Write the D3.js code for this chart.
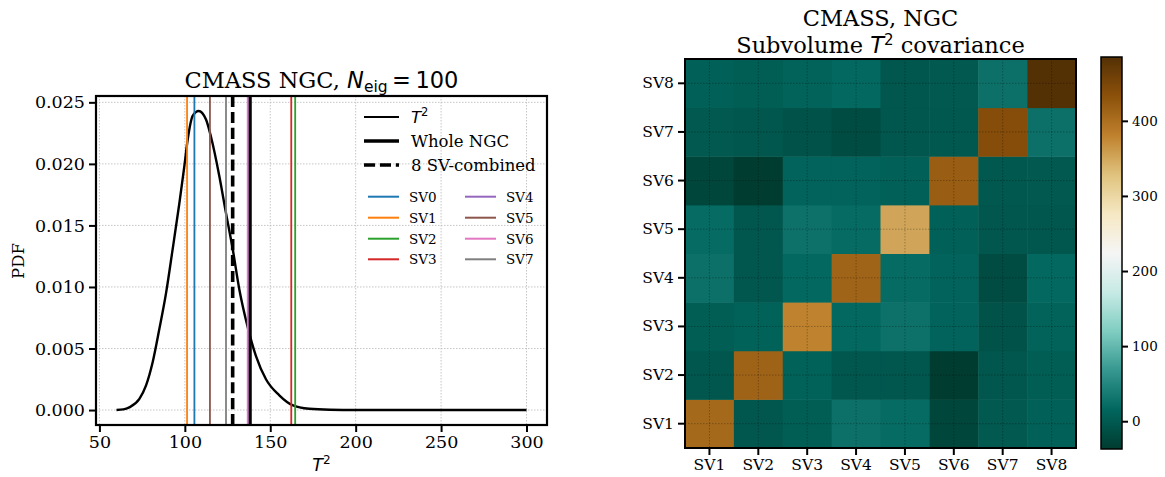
<!DOCTYPE html>
<html>
<head>
<meta charset="utf-8">
<script src="https://cdn.jsdelivr.net/npm/d3@7"></script>
<style>
    body { margin: 0; background: #fff; }
    svg text { font-family: "DejaVu Serif", serif; fill: #000; }
    .math { font-family: "DejaVu Sans", sans-serif; }
</style>
</head>
<body>
<svg id="fig" width="1165" height="477"></svg>
<script>
// T^2 distribution
var t2Grid = [60, 64, 67.5, 73.4, 77.3, 81.2, 85.1, 89, 92.9, 96.8, 99.7, 101.7, 104.6, 108.1,
              112.4, 115.3, 120.2, 124.1, 128, 131.9, 136.7, 141.6, 147.5, 155.3, 163, 172.8,
              185, 200, 250, 300];
var t2Pdf = [0, 0.00005, 0.00022, 0.0009, 0.002, 0.0039, 0.0066, 0.0095, 0.0131, 0.0168, 0.0198,
             0.0220, 0.0239, 0.0243, 0.0236, 0.0222, 0.019, 0.016, 0.0131, 0.0098, 0.0068, 0.0044,
             0.0025, 0.0012, 0.0004, 0.0001, 0.00002, 0, 0, 0];

// measured T^2 values
var svNames = ['SV0', 'SV1', 'SV2', 'SV3', 'SV4', 'SV5', 'SV6', 'SV7'];
var svT2 = [105.6, 101.3, 164.6, 162.3, 137.2, 114.7, 136.8, 124.1];
var svColors = ['#1f77b4', '#ff7f0e', '#2ca02c', '#d62728', '#9467bd', '#8c564b', '#e377c2', '#7f7f7f'];
var wholeNGC = 138.3;
var combined8SV = 128.0;

var xTicks = [50, 100, 150, 200, 250, 300];
var yTicks = [0, 0.005, 0.010, 0.015, 0.020, 0.025];

// subvolume covariance, rows SV1..SV8, columns SV1..SV8
var covLabels = ['SV1', 'SV2', 'SV3', 'SV4', 'SV5', 'SV6', 'SV7', 'SV8'];
var covSV1 = [407, -3.5, 5, 26, 20, -24, -1.5, 8];
var covSV2 = [-3.5, 413, 10, -3, -3, -37, -4, 5];
var covSV3 = [5, 10, 380, 17, 27, 12, -8, 11];
var covSV4 = [26, -3, 17, 412, 20, 12, -17, 17];
var covSV5 = [20, -3, 27, 20, 352, 8, -4.5, -4];
var covSV6 = [-24, -37, 12, 12, 8, 419, -2, -1];
var covSV7 = [-1.5, -4, -8, -17, -4.5, -2, 439, 26];
var covSV8 = [8, 5, 11, 17, -4, -1, 26, 485];
var cbTicks = [0, 100, 200, 300, 400];

(function () {
    var svg = d3.select('#fig');

    // ---------- left panel: T^2 pdf ----------
    var L = { x0: 96, x1: 547, y0: 96, y1: 425 };
    var xr = d3.extent(t2Grid), yr = d3.extent(t2Pdf);
    var xm = (xr[1] - xr[0]) * 0.05, ym = (yr[1] - yr[0]) * 0.05;
    var x = d3.scaleLinear().domain([xr[0] - xm, xr[1] + xm]).range([L.x0, L.x1]);
    var y = d3.scaleLinear().domain([yr[0] - ym, yr[1] + ym]).range([L.y1, L.y0]);

    var left = svg.append('g');
    svg.append('clipPath').attr('id', 'clipL').append('rect')
        .attr('x', L.x0).attr('y', L.y0).attr('width', L.x1 - L.x0).attr('height', L.y1 - L.y0);

    // grid
    var grid = left.append('g').attr('stroke', '#b8b8b8').attr('stroke-width', 0.8)
        .attr('stroke-dasharray', '1.5,1.5');
    grid.selectAll('.gx').data(xTicks).join('line')
        .attr('class', 'gx')
        .attr('x1', function (d) { return x(d); }).attr('x2', function (d) { return x(d); })
        .attr('y1', L.y0).attr('y2', L.y1);
    grid.selectAll('.gy').data(yTicks).join('line')
        .attr('class', 'gy')
        .attr('y1', function (d) { return y(d); }).attr('y2', function (d) { return y(d); })
        .attr('x1', L.x0).attr('x2', L.x1);

    var plot = left.append('g').attr('clip-path', 'url(#clipL)');

    // pdf curve
    var line = d3.line()
        .x(function (d) { return x(d[0]); })
        .y(function (d) { return y(d[1]); })
        .curve(d3.curveMonotoneX);
    plot.append('path')
        .datum(t2Grid.map(function (g, i) { return [g, t2Pdf[i]]; }))
        .attr('d', line).attr('fill', 'none').attr('stroke', '#000').attr('stroke-width', 2.4);

    // subvolume lines
    plot.selectAll('.sv').data(svT2).join('line')
        .attr('class', 'sv')
        .attr('x1', function (d) { return x(d); }).attr('x2', function (d) { return x(d); })
        .attr('y1', L.y0).attr('y2', L.y1)
        .attr('stroke', function (d, i) { return svColors[i]; })
        .attr('stroke-width', 1.8);

    plot.append('line')
        .attr('x1', x(wholeNGC)).attr('x2', x(wholeNGC)).attr('y1', L.y0).attr('y2', L.y1)
        .attr('stroke', '#000').attr('stroke-width', 3);
    plot.append('line')
        .attr('x1', x(combined8SV)).attr('x2', x(combined8SV)).attr('y1', L.y0).attr('y2', L.y1)
        .attr('stroke', '#000').attr('stroke-width', 3.6).attr('stroke-dasharray', '11.1,4.8');

    // axes
    var ax = left.append('g').attr('transform', 'translate(0,' + L.y1 + ')')
        .call(d3.axisBottom(x).tickValues(xTicks).tickSize(7).tickPadding(4).tickFormat(d3.format('d')));
    var ay = left.append('g').attr('transform', 'translate(' + L.x0 + ',0)')
        .call(d3.axisLeft(y).tickValues(yTicks).tickSize(7).tickPadding(4).tickFormat(d3.format('.3f')));
    [ax, ay].forEach(function (a) {
        a.select('.domain').remove();
        a.selectAll('line').attr('stroke', '#000').attr('stroke-width', 2);
        a.selectAll('text').attr('font-family', '"DejaVu Serif", serif').attr('font-size', 17.5).attr('fill', '#000');
    });

    left.append('rect')
        .attr('x', L.x0).attr('y', L.y0).attr('width', L.x1 - L.x0).attr('height', L.y1 - L.y0)
        .attr('fill', 'none').attr('stroke', '#000').attr('stroke-width', 2.2);

    // title
    var title = left.append('text').attr('x', (L.x0 + L.x1) / 2).attr('y', 88)
        .attr('text-anchor', 'middle').attr('font-size', 22.5);
    title.append('tspan').text('CMASS NGC, ');
    title.append('tspan').attr('class', 'math').attr('font-style', 'italic').text('N');
    title.append('tspan').attr('class', 'math').attr('font-size', 15.5).attr('dy', 4).text('eig');
    title.append('tspan').attr('class', 'math').attr('dy', -4).text('\u2009=\u2009100');

    // axis labels
    var xl = left.append('text').attr('x', (L.x0 + L.x1) / 2).attr('y', 471)
        .attr('text-anchor', 'middle').attr('font-size', 17.5);
    xl.append('tspan').attr('class', 'math').attr('font-style', 'italic').text('T');
    xl.append('tspan').attr('class', 'math').attr('font-size', 12).attr('dy', -7).text('2');

    left.append('text').attr('transform', 'translate(24,261) rotate(-90)')
        .attr('text-anchor', 'middle').attr('font-size', 16.5).text('PDF');

    // legend 1
    var leg1 = [
        { lbl: 'T', w: 2.2, dash: null, rowY: 117 },
        { lbl: 'Whole NGC', w: 3.6, dash: null, rowY: 141 },
        { lbl: '8 SV-combined', w: 3.6, dash: '11.1,4.8', rowY: 165 }
    ];
    var lg1 = left.append('g');
    leg1.forEach(function (e, i) {
        lg1.append('line').attr('x1', 364).attr('x2', 399).attr('y1', e.rowY).attr('y2', e.rowY)
            .attr('stroke', '#000').attr('stroke-width', e.w).attr('stroke-dasharray', e.dash);
        var t = lg1.append('text').attr('x', 411).attr('y', e.rowY + 6).attr('font-size', 16.5);
        if (i === 0) {
            t.append('tspan').attr('class', 'math').attr('font-style', 'italic').text('T');
            t.append('tspan').attr('class', 'math').attr('font-size', 11.5).attr('dy', -7).text('2');
        } else {
            t.text(e.lbl);
        }
    });

    // legend 2 (two columns)
    var lg2 = left.append('g');
    var rows2 = [196.7, 217.7, 238.7, 259.3];
    svNames.forEach(function (n, i) {
        var col = Math.floor(i / 4), ry = rows2[i % 4];
        var hx = col === 0 ? 368 : 465;
        lg2.append('line').attr('x1', hx).attr('x2', hx + 31).attr('y1', ry).attr('y2', ry)
            .attr('stroke', svColors[i]).attr('stroke-width', 2);
        lg2.append('text').attr('x', hx + 41).attr('y', ry + 5).attr('font-size', 13.5).text(n);
    });

    // ---------- right panel: covariance heatmap ----------
    var H = { x0: 685, x1: 1076, y0: 59, y1: 448 };
    var covMatrix = [covSV1, covSV2, covSV3, covSV4, covSV5, covSV6, covSV7, covSV8];
    var vmin = d3.min(covMatrix, function (r) { return d3.min(r); });
    var vmax = d3.max(covMatrix, function (r) { return d3.max(r); });

    // BrBG_r, linear between the 11 anchor colours (as matplotlib does)
    var brbg = d3.schemeBrBG[11].slice().reverse();
    var color = d3.scaleLinear()
        .domain(d3.range(11).map(function (i) { return vmin + i * (vmax - vmin) / 10; }))
        .range(brbg).interpolate(d3.interpolateRgb).clamp(true);

    var hx = d3.scaleBand().domain(covLabels).range([H.x0, H.x1]);
    var hy = d3.scaleBand().domain(covLabels).range([H.y1, H.y0]);

    var cells = [];
    covMatrix.forEach(function (row, i) {
        row.forEach(function (v, j) { cells.push({ r: covLabels[i], c: covLabels[j], v: v }); });
    });

    var right = svg.append('g');
    right.selectAll('.cell').data(cells).join('rect')
        .attr('class', 'cell')
        .attr('x', function (d) { return hx(d.c); })
        .attr('y', function (d) { return hy(d.r); })
        .attr('width', hx.bandwidth() + 0.5).attr('height', hy.bandwidth() + 0.5)
        .attr('fill', function (d) { return color(d.v); });

    var hgrid = right.append('g').attr('stroke', 'rgba(0,0,0,0.35)').attr('stroke-width', 0.8)
        .attr('stroke-dasharray', '1.5,1.5');
    covLabels.forEach(function (l) {
        var cx = hx(l) + hx.bandwidth() / 2, cy = hy(l) + hy.bandwidth() / 2;
        hgrid.append('line').attr('x1', cx).attr('x2', cx).attr('y1', H.y0).attr('y2', H.y1);
        hgrid.append('line').attr('y1', cy).attr('y2', cy).attr('x1', H.x0).attr('x2', H.x1);
    });

    var hax = right.append('g').attr('transform', 'translate(0,' + H.y1 + ')')
        .call(d3.axisBottom(hx).tickSize(7).tickPadding(4));
    var hay = right.append('g').attr('transform', 'translate(' + H.x0 + ',0)')
        .call(d3.axisLeft(hy).tickSize(7).tickPadding(4));
    [hax, hay].forEach(function (a) {
        a.select('.domain').remove();
        a.selectAll('line').attr('stroke', '#000').attr('stroke-width', 2);
        a.selectAll('text').attr('font-family', '"DejaVu Serif", serif').attr('font-size', 15.5).attr('fill', '#000');
    });

    right.append('rect')
        .attr('x', H.x0).attr('y', H.y0).attr('width', H.x1 - H.x0).attr('height', H.y1 - H.y0)
        .attr('fill', 'none').attr('stroke', '#000').attr('stroke-width', 2);

    right.append('text').attr('x', (H.x0 + H.x1) / 2).attr('y', 26)
        .attr('text-anchor', 'middle').attr('font-size', 22.5).text('CMASS, NGC');
    var ht2 = right.append('text').attr('x', (H.x0 + H.x1) / 2).attr('y', 53)
        .attr('text-anchor', 'middle').attr('font-size', 22.5);
    ht2.append('tspan').text('Subvolume ');
    ht2.append('tspan').attr('class', 'math').attr('font-style', 'italic').text('T');
    ht2.append('tspan').attr('class', 'math').attr('font-size', 15).attr('dy', -8).text('2');
    ht2.append('tspan').attr('dy', 8).text(' covariance');

    // colorbar
    var CB = { x0: 1101, x1: 1122, y0: 57, y1: 449 };
    var cy = d3.scaleLinear().domain([vmin, vmax]).range([CB.y1, CB.y0]);
    var grad = svg.append('defs').append('linearGradient').attr('id', 'cbGrad')
        .attr('x1', 0).attr('y1', 1).attr('x2', 0).attr('y2', 0);
    d3.range(0, 1.0001, 0.02).forEach(function (t) {
        grad.append('stop').attr('offset', t).attr('stop-color', color(vmin + t * (vmax - vmin)));
    });
    right.append('rect').attr('x', CB.x0).attr('y', CB.y0)
        .attr('width', CB.x1 - CB.x0).attr('height', CB.y1 - CB.y0)
        .attr('fill', 'url(#cbGrad)').attr('stroke', '#000').attr('stroke-width', 1.5);
    var cax = right.append('g').attr('transform', 'translate(' + CB.x1 + ',0)')
        .call(d3.axisRight(cy).tickValues(cbTicks).tickSize(6).tickPadding(4).tickFormat(d3.format('d')));
    cax.select('.domain').remove();
    cax.selectAll('line').attr('stroke', '#000').attr('stroke-width', 2);
    cax.selectAll('text').attr('font-family', '"DejaVu Serif", serif').attr('font-size', 13.5).attr('fill', '#000');
})();
</script>
</body>
</html>
